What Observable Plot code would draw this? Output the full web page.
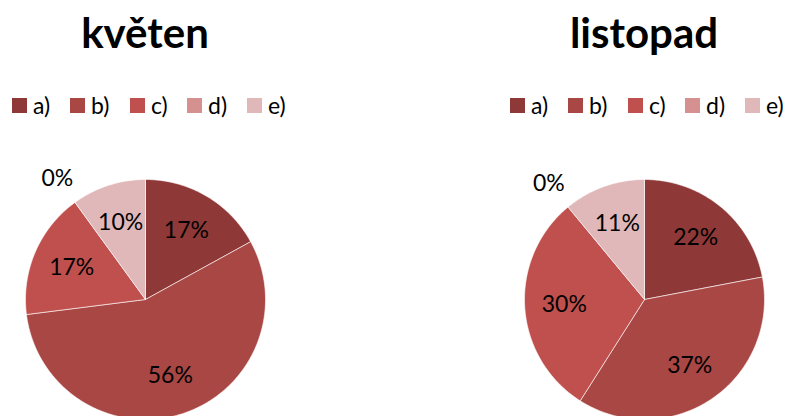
<!DOCTYPE html>
<html>
<head>
<meta charset="utf-8">
<script src="https://cdn.jsdelivr.net/npm/d3@7"></script>
<script src="https://cdn.jsdelivr.net/npm/@observablehq/plot@0.6"></script>
<style>
  html, body { margin: 0; padding: 0; background: #fff; }
  #root { position: relative; width: 788px; height: 416px; overflow: hidden; font-family: Lato, "Open Sans", sans-serif; }
  .title { position: absolute; width: 400px; text-align: center; font-weight: bold; font-size: 42px; color: #000; line-height: 1; }
  .legend { position: absolute; display: flex; align-items: center; font-size: 23px; color: #000; }
  .legend .item { display: flex; align-items: center; }
  .legend .sw { width: 15px; height: 15px; margin-right: 6px; }
  .pie { position: absolute; }
</style>
</head>
<body>
<div id="root"></div>
<script>
const months = ["květen", "listopad"];
const categories = ["a)", "b)", "c)", "d)", "e)"];
const kvetenValues = [17, 56, 17, 0, 10];
const listopadValues = [22, 37, 30, 0, 11];
const colors = ["#8E3937", "#A94745", "#C0504D", "#D4918F", "#E0B8B9"];

const seriesValues = [kvetenValues, listopadValues];
const centersX = [145, 644];
const legendLeft = [12, 510];
const itemWidths = [58, 60, 57, 60, 60];

const root = document.getElementById("root");

months.forEach((month, i) => {
  const cx = centersX[i];
  const values = seriesValues[i];

  // title
  const t = document.createElement("div");
  t.className = "title";
  t.textContent = month;
  t.style.left = (cx - 200) + "px";
  t.style.top = "11px";
  root.appendChild(t);

  // legend
  const lg = document.createElement("div");
  lg.className = "legend";
  lg.style.left = legendLeft[i] + "px";
  lg.style.top = "91px";
  categories.forEach((c, j) => {
    const it = document.createElement("div");
    it.className = "item";
    it.style.width = itemWidths[j] + "px";
    const sw = document.createElement("div");
    sw.className = "sw";
    sw.style.background = colors[j];
    const tx = document.createElement("span");
    tx.textContent = c;
    it.appendChild(sw);
    it.appendChild(tx);
    lg.appendChild(it);
  });
  root.appendChild(lg);

  // pie geometry from data
  const data = categories.map((c, j) => ({key: c, value: values[j]}));
  const arcs = d3.pie().sort(null).value(d => d.value)(data);
  const wedgePts = [];
  arcs.filter(a => a.data.value > 0).forEach(a => {
    wedgePts.push({key: a.data.key, x: 0, y: 0});
    const n = Math.max(2, Math.ceil((a.endAngle - a.startAngle) / (Math.PI / 180)));
    for (let k = 0; k <= n; k++) {
      const ang = a.startAngle + (a.endAngle - a.startAngle) * k / n;
      wedgePts.push({key: a.data.key, x: Math.sin(ang), y: Math.cos(ang)});
    }
    wedgePts.push({key: a.data.key, x: 0, y: 0});
  });
  const labels = arcs.map(a => {
    const mid = (a.startAngle + a.endAngle) / 2;
    const r = a.data.value > 0 ? 0.67 : 1.25;
    return {label: a.data.value + "%", x: r * Math.sin(mid), y: r * Math.cos(mid)};
  });

  const svg = Plot.plot({
    width: 300,
    height: 280,
    margin: 0,
    x: {domain: [-1.25, 1.25], axis: null},
    y: {domain: [-1.175, 1.1583], axis: null},
    color: {domain: categories, range: colors},
    style: {background: "transparent", overflow: "visible"},
    marks: [
      Plot.line(wedgePts, {x: "x", y: "y", z: "key", fill: "key", stroke: "white", strokeWidth: 0.6, curve: "linear"}),
      Plot.text(labels, {x: "x", y: "y", text: "label", fontSize: 23, fill: "#000", fontFamily: "Lato, sans-serif"})
    ]
  });
  svg.classList.add("pie");
  svg.style.left = (cx - 150) + "px";
  svg.style.top = "160px";
  root.appendChild(svg);
});
</script>
</body>
</html>
